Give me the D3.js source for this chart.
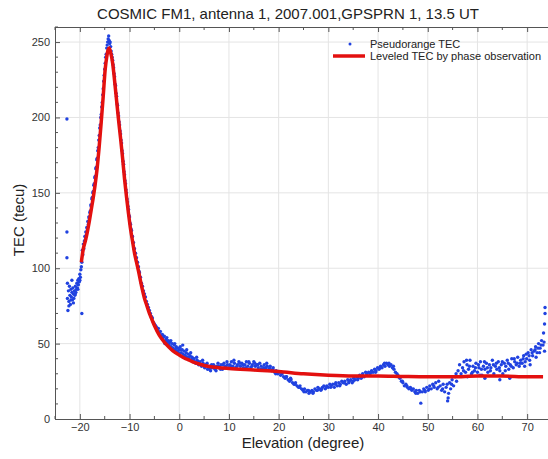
<!DOCTYPE html>
<html lang="en">
<head>
<meta charset="UTF-8">
<title>COSMIC FM1 TEC</title>
<script src="https://d3js.org/d3.v7.min.js"></script>
<style>
  body { margin: 0; background: #fff; font-family: "Liberation Sans", Arial, sans-serif; }
  .grid line { stroke: #e4e4e4; stroke-width: 1; }
  .tick-label { font-size: 11px; fill: #333; }
</style>
</head>
<body>
<div id="chart"></div>
<script>
// ---- data ----
const xTicks = [-20, -10, 0, 10, 20, 30, 40, 50, 60, 70];
const yTicks = [0, 50, 100, 150, 200, 250];

// leveled TEC (red line): [elevation, TEC]
const leveled = [
  [-19.7,104],[-19.3,113],[-18.9,118],[-18.5,124],[-18.1,131],[-17.7,139],[-17.3,147],[-16.9,156],
  [-16.5,167],[-16.1,181],[-15.7,197],[-15.3,214],[-14.9,232],[-14.6,240],[-14.3,245],[-14.1,246],
  [-13.8,243],[-13.4,236],[-13.0,224],[-12.6,211],[-12.2,198],[-11.8,186],[-11.4,173],[-11.0,159],
  [-10.6,147],[-10.2,136],[-9.8,126],[-9.4,118],[-9.0,110],[-8.6,104],[-8.2,98],[-7.5,87],[-7.0,80],
  [-6.5,75],[-6.0,70],[-5.5,66],[-5.0,62],[-4.0,55.5],[-3.0,51],[-2.0,47.5],[-1.0,44.5],[0,42.5],
  [1,40.5],[2,39],[3,37.5],[4,36.5],[5,35.5],[6,34.8],[8,34],[10,33.5],[15,32.5],[20,31.5],[25,30],
  [30,29],[35,28.5],[40,28.5],[45,28.2],[50,28],[55,28],[60,28.5],[65,28.5],[70,28],[73.2,28]
];

// pseudorange TEC (blue dots): [elevation, TEC]
const pseudorange = [
  [-22.6,199],[-22.6,124],[-22.6,107],[-22.5,90],[-22.4,72],[-22.3,85],[-22.2,78],[-22.1,88],[-22.0,82],
  [-21.9,76],[-21.8,86],[-21.7,81],[-21.6,84],[-21.5,79],[-21.4,87],[-21.3,83],[-21.2,80],[-21.1,85],
  [-21.0,82],[-20.9,88],[-20.8,84],[-20.7,86],[-20.6,90],[-20.5,87],[-20.4,92],[-20.3,89],[-20.2,93],
  [-20.1,91],[-20.0,96],[-19.9,94],[-19.8,99],[-19.7,101],[-19.6,70],[-19.6,104],
  [-22.5,80],[-22.2,75],[-21.8,79],[-21.3,77],[-20.9,83],[-20.4,86],[-20.0,92],[-21.6,92],
  [-19.5,112],[-19.4,109],[-19.3,116],[-19.2,113],[-19.1,118],[-19.0,121],[-18.9,119],[-18.8,124],
  [-18.7,122],[-18.6,127],[-18.5,126],[-18.4,131],[-18.3,129],[-18.2,134],[-18.1,133],[-18.0,137],
  [-17.9,138],[-17.8,142],[-17.7,141],[-17.6,146],[-17.5,147],[-17.4,150],[-17.3,151],[-17.2,155],
  [-17.1,156],[-17.0,160],[-16.9,161],[-16.8,166],[-16.7,167],[-16.6,172],[-16.5,173],[-16.4,178],
  [-16.3,180],[-16.2,185],[-16.1,188],[-16.0,193],[-15.9,195],[-15.8,200],[-15.7,202],[-15.6,207],
  [-15.5,210],[-15.4,215],[-15.3,219],[-15.2,224],[-15.1,228],[-15.0,232],[-14.9,236],[-14.8,240],
  [-14.7,242],[-14.6,246],[-14.5,248],[-14.4,250],[-14.3,252],[-14.2,254],[-14.1,251],[-14.0,249],
  [-13.9,250],[-13.8,247],
  [-13.7,244],[-13.6,242],[-13.5,240],[-13.4,238],[-13.3,235],[-13.2,233],[-13.1,229],[-13.0,227],
  [-12.9,222],[-12.8,221],[-12.7,216],[-12.6,214],[-12.5,209],[-12.4,208],[-12.3,203],[-12.2,201],
  [-12.1,197],[-12.0,195],[-11.9,191],[-11.8,189],[-11.7,185],[-11.6,183],[-11.5,178],[-11.4,176],
  [-11.3,171],[-11.2,169],[-11.1,164],[-11.0,162],[-10.9,158],[-10.8,156],[-10.7,152],[-10.6,150],
  [-10.5,146],[-10.4,144],[-10.3,141],[-10.2,139],[-10.1,135],[-10.0,134],[-9.9,130],[-9.8,129],
  [-9.7,126],[-9.6,125],[-9.5,121],[-9.4,121],[-9.3,117],[-9.2,117],[-9.1,113],[-9.0,113],[-8.9,110],
  [-8.8,110],[-8.7,107],[-8.6,107],[-8.5,104],[-8.4,104],[-8.3,101],[-8.2,101],[-8.1,98],[-8.0,97],
  [-7.8,94],[-7.6,90],[-7.4,88],[-7.2,85],[-7.0,83],[-6.8,81],[-6.6,78],[-6.4,76],[-6.2,74],[-6.0,72],
  [-5.8,70],[-5.6,68],[-5.4,67],[-5.2,64],[-5.0,63],
  [-4.8,62],[-4.6,61],[-4.4,59],[-4.2,60],[-4.0,57],[-3.8,58],[-3.6,55],[-3.4,56],[-3.2,54],[-3.0,55],
  [-2.8,52],[-2.6,53],[-2.4,51],[-2.2,52],[-2.0,49],[-1.8,51],[-1.6,48],[-1.4,50],[-1.2,47],[-1.0,49],
  [-0.8,46],[-0.6,48],[-0.4,45],[-0.2,47],[0.0,46],[0.2,48],[0.4,44],[0.6,46],[0.8,43],[1.0,45],
  [1.2,42],[1.4,44],[1.6,41],[1.8,43],[2.0,40],[2.2,42],[2.4,39],[2.6,41],[2.8,38],[3.0,40],[3.3,37],
  [3.6,39],[3.9,36],[4.2,38],[4.5,35],[4.8,37],[5.1,34],[5.4,36],[5.7,33],[6.0,35],[6.3,32],[6.6,34],
  [6.9,36],[7.2,33],[7.5,35],[7.8,37],[8.1,34],[8.4,36],[8.7,33],[9.0,37],[9.3,35],[9.6,38],[9.9,34],
  [-2.9,50],[-2.5,54],[-2.1,50],[-1.7,52],[-1.3,46],[-0.9,50],[-0.5,47],[-0.1,44],[0.3,46],[0.7,49],
  [1.1,42],[1.5,46],[1.9,41],[2.3,44],[2.7,40],[3.1,38],[3.5,41],[3.8,38],[4.3,36],[4.7,39],[5.2,35],
  [5.6,37],[6.1,33],[6.5,36],[7.0,34],[7.4,32],[7.9,35],[8.3,33],[8.8,36],[9.2,34],[9.7,36],
  [10.2,36],[10.5,38],[10.8,35],[11.1,37],[11.4,34],[11.7,36],[12.0,38],[12.3,35],[12.6,37],[12.9,34],
  [13.2,36],[13.5,38],[13.8,35],[14.1,37],[14.4,34],[14.7,36],[15.0,38],[15.3,35],[15.6,36],[15.9,34],
  [16.2,37],[16.5,35],[16.8,33],[17.1,36],[17.4,34],[17.7,35],[18.0,33],[18.3,35],[18.6,32],[18.9,34],
  [19.2,31],[19.5,32],[19.8,30],
  [10.4,35],[11.0,39],[11.6,35],[12.2,37],[12.8,36],[13.4,34],[14.0,38],[14.6,35],[15.2,37],[15.8,36],
  [16.4,33],[17.0,34],[17.6,37],[18.2,34],[18.8,33],[19.4,30],
  [20.1,31],[20.4,29],[20.7,30],[21.0,28],[21.3,27],[21.6,28],[21.9,26],[22.2,25],[22.5,26],[22.8,24],
  [23.1,23],[23.4,24],[23.7,22],[24.0,21],[24.3,22],[24.6,20],[24.9,19],[25.2,20],[25.5,18],[25.8,19],
  [26.1,17],[26.4,18],[26.7,19],[27.0,18],[27.3,20],[27.6,19],[27.9,21],[28.2,20],[28.5,19],[28.8,21],
  [29.1,22],[29.4,20],[29.7,22],
  [30.0,21],[30.3,23],[30.6,22],[30.9,23],[31.2,21],[31.5,24],[31.8,22],[32.1,24],[32.4,23],[32.7,25],
  [33.0,24],[33.3,25],[33.6,23],[33.9,26],[34.2,25],[34.5,26],[34.8,24],[35.1,27],[35.4,26],[35.7,28],
  [36.0,27],[36.3,29],[36.6,27],[36.9,30],[37.2,28],[37.5,31],[37.8,29],[38.1,31],[38.4,30],[38.7,32],
  [39.0,31],[39.3,33],[39.6,32],[39.9,34],
  [40.2,33],[40.5,35],[40.8,34],[41.1,36],[41.4,35],[41.7,37],[42.0,36],[42.3,35],[42.6,36],[42.9,34],
  [43.2,33],[43.5,31],[43.8,30],[44.1,28],[44.4,27],[44.7,25],[45.0,24],[45.3,22],[45.6,23],[45.9,21],
  [46.2,20],[46.5,21],[46.8,19],[47.1,20],[47.4,18],[47.7,19],[48.0,17],[48.3,19],[48.6,10.5],[48.9,18],
  [49.2,20],[49.5,18],[49.8,21],
  [20.5,31],[21.5,28],[22.4,27],[23.3,23],[24.2,21],[25.1,18],[26.0,19],[26.9,17],[27.8,19],[28.7,20],
  [29.6,21],[30.5,21],[31.4,23],[32.3,22],[33.2,24],[34.1,24],[35.0,25],[35.9,26],[36.8,28],[37.7,30],
  [38.6,31],[39.5,31],[40.4,34],[41.3,37],[42.2,37],[43.1,35],[44.0,29],[44.9,25],[45.8,22],[46.7,20],
  [47.6,17],[48.5,18],[49.4,19],[50.3,20],[51.2,22],[52.1,21],[53.0,20],[53.9,23],[54.8,23],[55.7,30],
  [50.1,19],[50.4,22],[50.7,20],[51.0,23],[51.3,21],[51.6,24],[51.9,20],[52.2,25],[52.5,22],[52.8,19],
  [53.1,23],[53.4,18],[53.7,21],[54.0,12],[54.1,14],[54.2,17],[54.4,24],[54.6,20],[54.9,26],[55.2,22],
  [55.5,28],[55.8,25],[56.1,32],[56.4,36],[56.7,30],
  [57.0,34],[57.3,38],[57.6,31],[57.9,36],[58.2,33],[58.5,39],[58.8,30],[59.1,35],[59.4,32],[59.7,37],
  [60.0,31],[60.3,34],[60.6,38],[60.9,29],[61.2,35],[61.5,27],[61.5,33],[61.8,37],[62.1,31],[62.4,36],
  [62.7,34],[63.0,39],[63.3,30],[63.6,35],[63.9,33],[64.2,38],[64.5,26],[64.5,32],[64.8,36],[65.1,30],
  [65.4,37],[65.7,35],[66.0,39],[66.3,33],[66.5,27],[66.6,36],[66.9,40],[67.2,34],[67.5,38],[67.8,36],
  [68.1,41],[68.4,35],[68.7,39],[69.0,37],[69.3,42],[69.6,38],[69.9,40],[70.2,44],[70.5,39],[70.8,46],
  [71.1,42],[71.4,45],[71.7,48],[72.0,44],[72.3,50],[72.6,47],[72.9,52],[73.2,49],[73.5,45],[73.3,57],
  [73.5,63],[73.6,70],[73.6,74],
  [57.2,32],[57.8,39],[58.4,35],[59.0,31],[59.6,34],[60.2,36],[60.8,33],[61.4,38],[62.0,34],[62.6,32],
  [63.2,36],[63.8,37],[64.4,34],[65.0,38],[65.6,32],[66.2,37],[66.8,35],[67.4,40],[68.0,37],[68.6,37],
  [69.2,40],[69.8,43],[70.4,42],[71.0,44],[71.6,46],[72.2,47],[72.8,49],[73.4,51],[71.8,41],[72.5,44],
  [70.6,36],[69.5,35],[60.5,29],[58.0,28]
];

// ---- layout ----
const W = 548, H = 459;
const margin = {top: 27, left: 55};
const plotW = 497, plotH = 392;

const svg = d3.select("#chart").append("svg")
  .attr("width", W).attr("height", H);

const x = d3.scaleLinear().domain([-25, 75]).range([margin.left, margin.left + plotW]);
const y = d3.scaleLinear().domain([0, 260]).range([margin.top + plotH, margin.top]);

// grid
svg.append("g").attr("class", "grid")
  .selectAll("line").data(xTicks).join("line")
  .attr("x1", d => x(d)).attr("x2", d => x(d))
  .attr("y1", y(0)).attr("y2", y(260));
svg.append("g").attr("class", "grid")
  .selectAll("line").data(yTicks.filter(d => d > 0)).join("line")
  .attr("x1", x(-25)).attr("x2", x(75))
  .attr("y1", d => y(d)).attr("y2", d => y(d));

// axes, MATLAB style inward ticks, mirrored on top
const xMinor = d3.range(-25, 76, 5).filter(d => !xTicks.includes(d));
const yMinor = d3.range(0, 261, 10).filter(d => !yTicks.includes(d));

const axBottom = svg.append("g").attr("transform", `translate(0,${y(0)})`)
  .call(d3.axisBottom(x).tickValues(xTicks).tickSize(-5).tickPadding(4));
const axTop = svg.append("g").attr("transform", `translate(0,${y(260)})`)
  .call(d3.axisTop(x).tickValues(xTicks).tickSize(-5).tickFormat(""));
const axLeft = svg.append("g").attr("transform", `translate(${x(-25)},0)`)
  .call(d3.axisLeft(y).tickValues(yTicks).tickSize(-5).tickPadding(5));

[axBottom, axTop, axLeft].forEach(a => {
  a.select(".domain").attr("stroke", "#555");
  a.selectAll(".tick line").attr("stroke", "#555");
  a.selectAll(".tick text").attr("class", "tick-label")
    .style("font-family", "'Liberation Sans', Arial, sans-serif");
});

svg.append("g").selectAll("line").data(xMinor).join("line")
  .attr("x1", d => x(d)).attr("x2", d => x(d))
  .attr("y1", y(0)).attr("y2", y(0) - 3).attr("stroke", "#555");
svg.append("g").selectAll("line").data(xMinor).join("line")
  .attr("x1", d => x(d)).attr("x2", d => x(d))
  .attr("y1", y(260)).attr("y2", y(260) + 3).attr("stroke", "#555");
svg.append("g").selectAll("line").data(yMinor).join("line")
  .attr("x1", x(-25)).attr("x2", x(-25) + 3)
  .attr("y1", d => y(d)).attr("y2", d => y(d)).attr("stroke", "#555");

// data
const plot = svg.append("g");
plot.selectAll("circle").data(pseudorange).join("circle")
  .attr("cx", d => x(d[0])).attr("cy", d => y(d[1]))
  .attr("r", 1.7).attr("fill", "#2042e0");

plot.append("path").datum(leveled)
  .attr("fill", "none").attr("stroke", "#e3100f").attr("stroke-width", 3.5)
  .attr("stroke-linejoin", "round")
  .attr("d", d3.line().x(d => x(d[0])).y(d => y(d[1])).curve(d3.curveMonotoneX));

// legend
const lg = svg.append("g").style("font-size", "11px").attr("fill", "#222");
lg.append("circle").attr("cx", 350).attr("cy", 44).attr("r", 1.5).attr("fill", "#2042e0");
lg.append("text").attr("x", 370).attr("y", 48).text("Pseudorange TEC");
lg.append("line").attr("x1", 333).attr("x2", 365).attr("y1", 56).attr("y2", 56)
  .attr("stroke", "#e3100f").attr("stroke-width", 3.5);
lg.append("text").attr("x", 370).attr("y", 60).text("Leveled TEC by phase observation");

// titles
svg.append("text").attr("x", 288).attr("y", 19).attr("text-anchor", "middle")
  .style("font-size", "15px").attr("fill", "#222")
  .text("COSMIC FM1, antenna 1, 2007.001,GPSPRN 1, 13.5 UT");
svg.append("text").attr("x", 303).attr("y", 448).attr("text-anchor", "middle")
  .style("font-size", "15px").attr("fill", "#222").text("Elevation (degree)");
svg.append("text").attr("transform", "translate(24,220) rotate(-90)").attr("text-anchor", "middle")
  .style("font-size", "15px").attr("fill", "#222").text("TEC (tecu)");
</script>
</body>
</html>
